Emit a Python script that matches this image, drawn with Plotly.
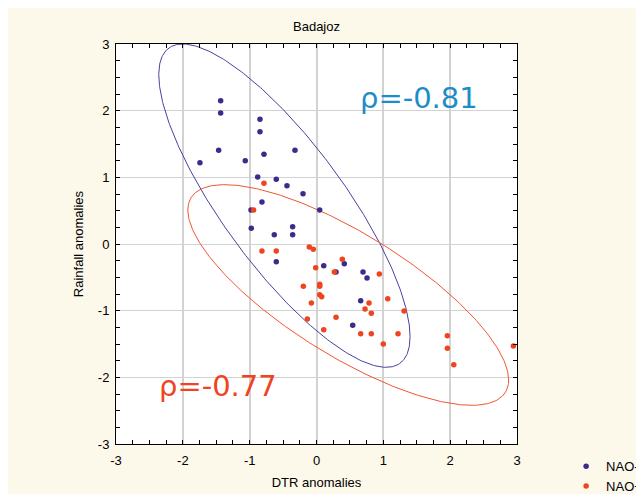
import numpy as np
import plotly.graph_objects as go

# ---------------- data ----------------
nao_minus_dtr = [-1.434, -1.434, -0.846, -0.846, -1.464, -0.786, -0.322, -1.744, -1.066, -0.880,
                 -0.602, -0.442, -0.202, -0.816, -0.980, 0.048, -0.976, -0.357, -0.632, -0.357,
                 -0.602, 0.108, 0.292, 0.416, 0.696, 0.756, 0.661, 0.542]
nao_minus_rain = [2.148, 1.964, 1.870, 1.684, 1.405, 1.345, 1.405, 1.219, 1.249, 1.004,
                  0.970, 0.874, 0.754, 0.630, 0.510, 0.510, 0.235, 0.260, 0.140, 0.140,
                  -0.265, -0.325, -0.420, -0.295, -0.420, -0.510, -0.850, -1.220]

nao_plus_dtr = [-0.786, -0.940, -0.816, -0.602, -0.108, -0.048, -0.012, 0.267, 0.386, 0.940,
                -0.197, 0.048, 0.048, 0.048, 0.078, -0.077, 1.066, 0.786, 0.726, 0.820,
                1.310, -0.137, 0.292, 0.108, 0.661, 0.820, 1.220, 1.000, 1.958, 1.958,
                2.054, 2.946]
nao_plus_rain = [0.910, 0.510, -0.105, -0.105, -0.045, -0.080, -0.355, -0.420, -0.230, -0.450,
                 -0.635, -0.605, -0.635, -0.760, -0.790, -0.885, -0.820, -0.885, -0.975, -1.040,
                 -1.005, -1.124, -1.100, -1.285, -1.345, -1.345, -1.345, -1.500, -1.375, -1.564,
                 -1.810, -1.530]

# confidence ellipse parameters: centre (x, y), half-extent in x and y, correlation
ellipse_minus = dict(cx=-0.48, cy=0.575, sx=1.88, sy=2.425, rho=-0.81)
ellipse_plus = dict(cx=0.475, cy=-0.765, sx=2.40, sy=1.655, rho=-0.77)

rho_labels = ["ρ=-0.81", "ρ=-0.77"]
rho_label_x = [1.53, -1.48]
rho_label_y = [2.19, -2.13]

tick_vals = [-3, -2, -1, 0, 1, 2, 3]
tick_text = ["-3", "-2", "-1", "0", "1", "2", "3"]

# ---------------- styles ----------------
BLUE = "#3b2b8c"
RED = "#f0441f"
BLUE_LINE = "#4a3f9f"
RED_LINE = "#f05533"
BLUE_TEXT = "#1c8dc8"
RED_TEXT = "#f0431f"
CREAM = "#fcf8ea"
FONT = "Liberation Sans, Arial, sans-serif"


def ellipse(p, n=361):
    t = np.linspace(0, 2 * np.pi, n)
    x = p["cx"] + p["sx"] * np.cos(t)
    y = p["cy"] + p["sy"] * (p["rho"] * np.cos(t) + np.sqrt(1 - p["rho"] ** 2) * np.sin(t))
    return x, y


fig = go.Figure()

ex, ey = ellipse(ellipse_minus)
fig.add_trace(go.Scatter(x=ex, y=ey, mode="lines", line=dict(color=BLUE_LINE, width=1),
                         showlegend=False, hoverinfo="skip"))
ex, ey = ellipse(ellipse_plus)
fig.add_trace(go.Scatter(x=ex, y=ey, mode="lines", line=dict(color=RED_LINE, width=1),
                         showlegend=False, hoverinfo="skip"))

fig.add_trace(go.Scatter(x=nao_minus_dtr, y=nao_minus_rain, mode="markers", name="NAO-",
                         marker=dict(color=BLUE, size=5.5, line=dict(width=0)), cliponaxis=False))
fig.add_trace(go.Scatter(x=nao_plus_dtr, y=nao_plus_rain, mode="markers", name="NAO+",
                         marker=dict(color=RED, size=5.5, line=dict(width=0)), cliponaxis=False))

for txt, tx, ty, col in zip(rho_labels, rho_label_x, rho_label_y, [BLUE_TEXT, RED_TEXT]):
    fig.add_annotation(x=tx, y=ty, text=txt, showarrow=False, xanchor="center", yanchor="middle",
                       font=dict(family="DejaVu Sans, Verdana, sans-serif", size=29, color=col))

axis_common = dict(
    range=[-3, 3], tickmode="array", tickvals=tick_vals, ticktext=tick_text,
    showgrid=True, gridcolor="#d2d2d2", zeroline=False, automargin=False,
    showline=True, linecolor="black", linewidth=1, mirror="ticks",
    ticks="inside", ticklen=4, tickcolor="black", tickwidth=1,
    minor=dict(dtick=0.25, tick0=0, ticks="inside", ticklen=4, tickcolor="black", showgrid=False),
    tickfont=dict(family=FONT, size=13, color="black"),
)

fig.update_xaxes(**axis_common, gridwidth=2, ticklabelstandoff=4,
                 title=dict(text="DTR anomalies", font=dict(family=FONT, size=13, color="black"),
                            standoff=11))
fig.update_yaxes(**axis_common, gridwidth=1.3, ticklabelstandoff=3,
                 title=dict(text="Rainfall anomalies", font=dict(family=FONT, size=13, color="black"),
                            standoff=11))

# the page body has an 8px margin, so the figure starts at (8, 8) in the window
fig.update_layout(
    width=644, height=494,
    margin=dict(l=108, r=134.5, t=36, b=57.5, autoexpand=False),
    paper_bgcolor=CREAM, plot_bgcolor="white",
    title=dict(text="Badajoz", x=0.5, xref="paper", y=1 - 18 / 494, yanchor="middle",
               font=dict(family=FONT, size=13, color="black")),
    legend=dict(x=1.1225, xanchor="left", y=-0.018, yanchor="top", bgcolor="rgba(0,0,0,0)",
                font=dict(family=FONT, size=13, color="black"), tracegroupgap=0,
                itemwidth=30, entrywidth=30),
    font=dict(family=FONT),
)

fig.write_html("out.html")
